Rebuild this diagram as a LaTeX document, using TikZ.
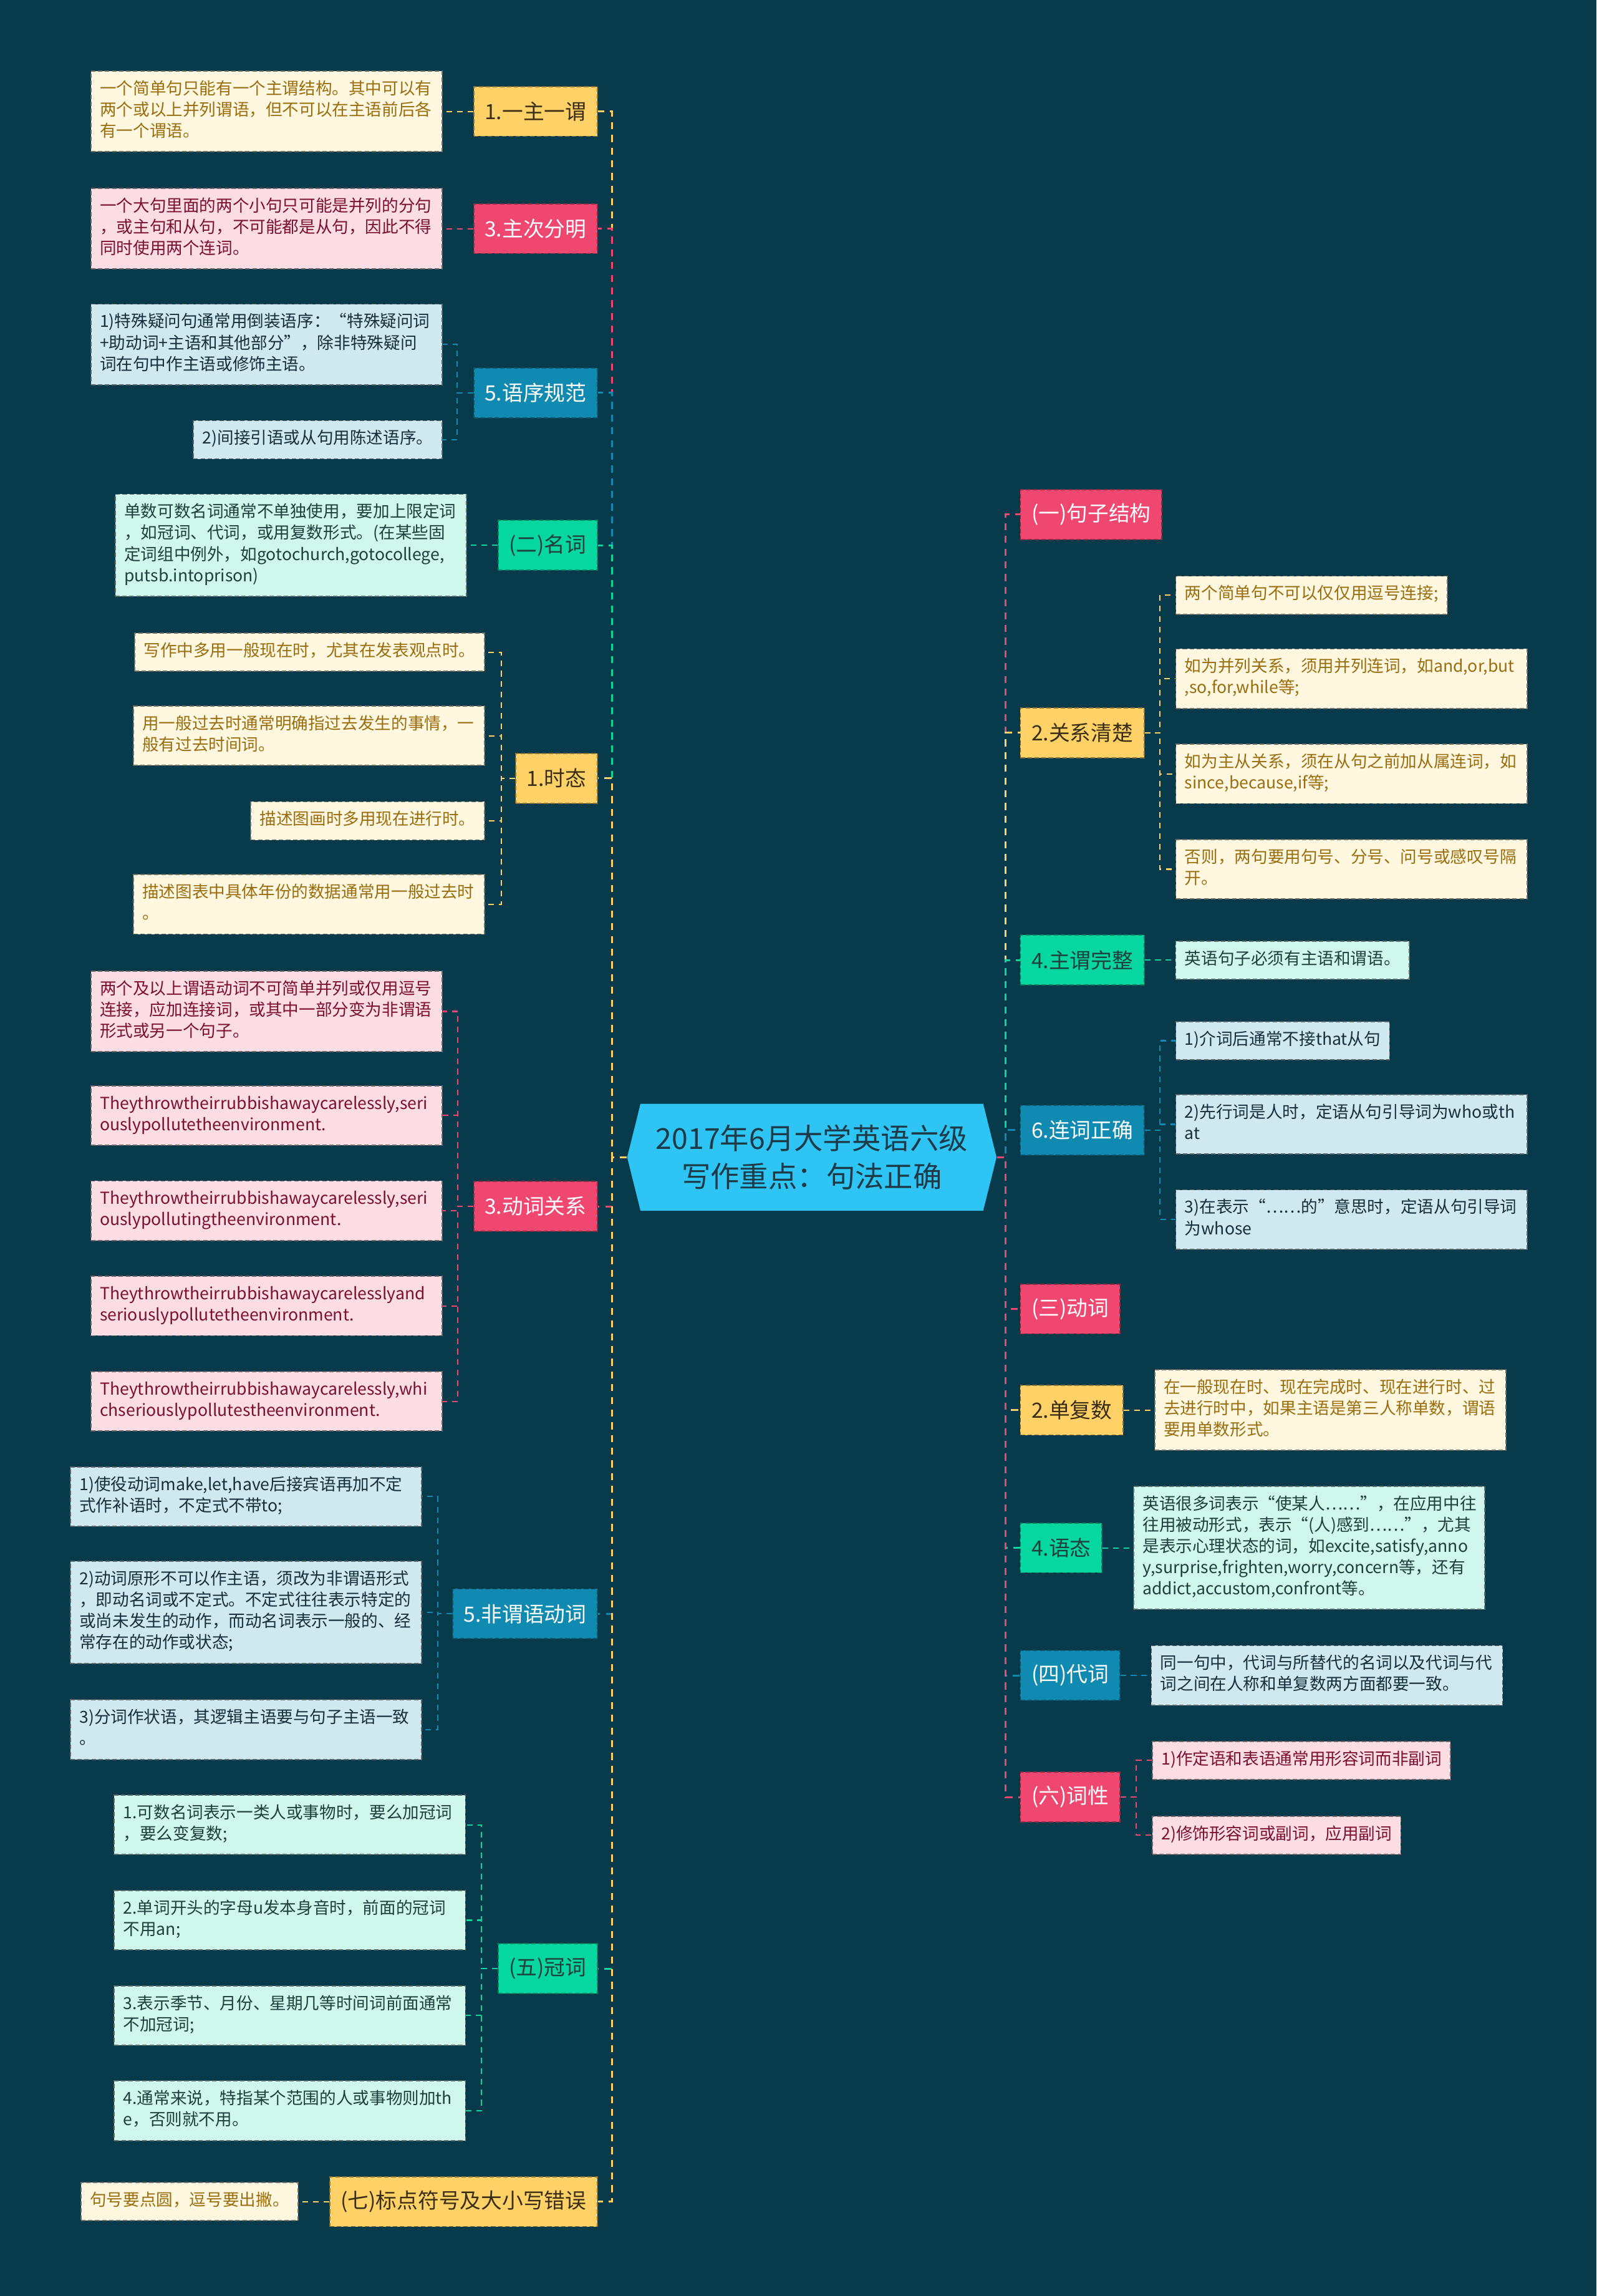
\documentclass[tikz,border=0pt]{standalone}
\usepackage{fontspec}
\setmainfont{Noto Sans CJK SC}
\usepackage{xcolor}
\usepackage{tikz}
\usetikzlibrary{positioning,shapes.symbols}

\definecolor{bgTeal}{HTML}{073B4C}
\definecolor{hubCyan}{HTML}{2EC4F4}
\definecolor{hubText}{HTML}{1C3A47}
\definecolor{ylwMain}{HTML}{FFD166}
\definecolor{ylwLeaf}{HTML}{FFF7E0}
\definecolor{ylwText}{HTML}{9A6E0E}
\definecolor{ylwDark}{HTML}{3A2E12}
\definecolor{pnkMain}{HTML}{EF476F}
\definecolor{pnkLeaf}{HTML}{FDDDE4}
\definecolor{pnkText}{HTML}{7B1030}
\definecolor{grnMain}{HTML}{06D6A0}
\definecolor{grnLeaf}{HTML}{CFF7EC}
\definecolor{grnText}{HTML}{1E3F3C}
\definecolor{bluMain}{HTML}{118AB2}
\definecolor{bluLeaf}{HTML}{D0E8EF}
\definecolor{bluText}{HTML}{13303C}

\newcommand{\hubsize}{\fontsize{13.2}{17.4}\selectfont}
\newcommand{\branchsize}{\fontsize{9.6}{12}\selectfont}
\newcommand{\leafsize}{\fontsize{7.57}{9.7}\selectfont}

\begin{document}
\begin{tikzpicture}[
  x=0.0235cm, y=-0.0235cm,
  node distance=0.49cm,
  hub/.style={signal, signal to=west and east, signal pointer angle=152, fill=hubCyan,
    text=hubText, font=\hubsize, align=center, minimum width=168.5pt, minimum height=48.8pt, inner sep=0pt},
  branch/.style={rectangle, line width=0.5pt, dash pattern=on 2pt off 1.2pt,
    minimum height=22.7pt, inner xsep=5pt, inner ysep=0pt, font=\branchsize},
  branchY/.style={branch, fill=ylwMain, draw=ylwMain!55!black, text=ylwDark},
  branchP/.style={branch, fill=pnkMain, draw=pnkMain!60!black, text=white},
  branchB/.style={branch, fill=bluMain, draw=bluMain!60!black, text=white},
  branchG/.style={branch, fill=grnMain, draw=grnMain!60!black, text=grnText},
  leaf/.style={rectangle, line width=0.5pt, dash pattern=on 2pt off 1.2pt, font=\leafsize,
    align=left, inner xsep=4.1pt, inner ysep=3.85pt,
    execute at begin node=\strut, execute at end node=\strut},
  wide/.style={text width=152pt},
  leafY/.style={leaf, fill=ylwLeaf, draw=ylwLeaf!45!black, text=ylwText},
  leafP/.style={leaf, fill=pnkLeaf, draw=pnkLeaf!45!black, text=pnkText},
  leafB/.style={leaf, fill=bluLeaf, draw=bluLeaf!45!black, text=bluText},
  leafG/.style={leaf, fill=grnLeaf, draw=grnLeaf!45!black, text=grnText},
  link/.style={line width=0.85pt, dash pattern=on 3.2pt off 2.6pt},
  twig/.style={line width=0.6pt, dash pattern=on 2.6pt off 2.2pt},
  linkY/.style={link, draw=ylwMain}, linkP/.style={link, draw=pnkMain},
  linkB/.style={link, draw=bluMain}, linkG/.style={link, draw=grnMain},
  twigY/.style={twig, draw=ylwMain}, twigP/.style={twig, draw=pnkMain},
  twigB/.style={twig, draw=bluMain}, twigG/.style={twig, draw=grnMain}
]
  \fill[bgTeal] (0,0) rectangle (1089.4,1566.4);

  \node[hub] (hub) at (554,789.5) {2017年6月大学英语六级\\写作重点：句法正确};

  \node[branchY, anchor=east] (single) at (408,76) {1.一主一谓};
  \node[branchP, anchor=east] (clause) at (408,156) {3.主次分明};
  \node[branchB, anchor=east] (order) at (408,268) {5.语序规范};
  \node[branchG, anchor=east] (noun) at (408,372) {(二)名词};
  \node[branchY, anchor=east] (tense) at (408,531) {1.时态};
  \node[branchP, anchor=east] (verbrel) at (408,823) {3.动词关系};
  \node[branchB, anchor=east] (nonfin) at (408,1101) {5.非谓语动词};
  \node[branchG, anchor=east] (article) at (408,1343) {(五)冠词};
  \node[branchY, anchor=east] (punct) at (408,1502) {(七)标点符号及大小写错误};

  \node[branchP, anchor=west] (struct) at (696,351) {(一)句子结构};
  \node[branchY, anchor=west] (relation) at (696,500) {2.关系清楚};
  \node[branchG, anchor=west] (subjpred) at (696,655) {4.主谓完整};
  \node[branchB, anchor=west] (conj) at (696,771) {6.连词正确};
  \node[branchP, anchor=west] (verb) at (696,893) {(三)动词};
  \node[branchY, anchor=west] (number) at (696,962) {2.单复数};
  \node[branchG, anchor=west] (voice) at (696,1056) {4.语态};
  \node[branchB, anchor=west] (pron) at (696,1143) {(四)代词};
  \node[branchP, anchor=west] (pos) at (696,1226) {(六)词性};

  \node[leafY, wide, left=of single] (single1) {一个简单句只能有一个主谓结构。其中可以有\\两个或以上并列谓语，但不可以在主语前后各\\有一个谓语。};
  \node[leafP, wide, left=of clause] (clause1) {一个大句里面的两个小句只可能是并列的分句\\，或主句和从句，不可能都是从句，因此不得\\同时使用两个连词。};
  \node[leafB, wide, anchor=east] (order1) at (302,235) {1)特殊疑问句通常用倒装语序：“特殊疑问词\\+助动词+主语和其他部分”，除非特殊疑问\\词在句中作主语或修饰主语。};
  \node[leafB, anchor=east] (order2) at (302,300) {2)间接引语或从句用陈述语序。};
  \node[leafG, wide, left=of noun] (noun1) {单数可数名词通常不单独使用，要加上限定词\\，如冠词、代词，或用复数形式。(在某些固\\定词组中例外，如gotochurch,gotocollege,\\putsb.intoprison)};
  \node[leafY, anchor=east] (tense1) at (331,445) {写作中多用一般现在时，尤其在发表观点时。};
  \node[leafY, wide, anchor=east] (tense2) at (331,502) {用一般过去时通常明确指过去发生的事情，一\\般有过去时间词。};
  \node[leafY, anchor=east] (tense3) at (331,560) {描述图画时多用现在进行时。};
  \node[leafY, wide, anchor=east] (tense4) at (331,617) {描述图表中具体年份的数据通常用一般过去时\\。};
  \node[leafP, wide, anchor=east] (verbrel1) at (302,690) {两个及以上谓语动词不可简单并列或仅用逗号\\连接，应加连接词，或其中一部分变为非谓语\\形式或另一个句子。};
  \node[leafP, wide, anchor=east] (verbrel2) at (302,761) {Theythrowtheirrubbishawaycarelessly,seri\\ouslypollutetheenvironment.};
  \node[leafP, wide, anchor=east] (verbrel3) at (302,826) {Theythrowtheirrubbishawaycarelessly,seri\\ouslypollutingtheenvironment.};
  \node[leafP, wide, anchor=east] (verbrel4) at (302,891) {Theythrowtheirrubbishawaycarelesslyand\\seriouslypollutetheenvironment.};
  \node[leafP, wide, anchor=east] (verbrel5) at (302,956) {Theythrowtheirrubbishawaycarelessly,whi\\chseriouslypollutestheenvironment.};
  \node[leafB, wide, anchor=east] (nonfin1) at (288,1021) {1)使役动词make,let,have后接宾语再加不定\\式作补语时，不定式不带to;};
  \node[leafB, wide, anchor=east] (nonfin2) at (288,1100) {2)动词原形不可以作主语，须改为非谓语形式\\，即动名词或不定式。不定式往往表示特定的\\或尚未发生的动作，而动名词表示一般的、经\\常存在的动作或状态;};
  \node[leafB, wide, anchor=east] (nonfin3) at (288,1180) {3)分词作状语，其逻辑主语要与句子主语一致\\。};
  \node[leafG, wide, anchor=east] (article1) at (318,1245) {1.可数名词表示一类人或事物时，要么加冠词\\，要么变复数;};
  \node[leafG, wide, anchor=east] (article2) at (318,1310) {2.单词开头的字母u发本身音时，前面的冠词\\不用an;};
  \node[leafG, wide, anchor=east] (article3) at (318,1375) {3.表示季节、月份、星期几等时间词前面通常\\不加冠词;};
  \node[leafG, wide, anchor=east] (article4) at (318,1440) {4.通常来说，特指某个范围的人或事物则加th\\e，否则就不用。};
  \node[leafY, left=of punct] (punct1) {句号要点圆，逗号要出撇。};

  \node[leafY, anchor=west] (relation1) at (802,406) {两个简单句不可以仅仅用逗号连接;};
  \node[leafY, wide, anchor=west] (relation2) at (802,463) {如为并列关系，须用并列连词，如and,or,but\\,so,for,while等;};
  \node[leafY, wide, anchor=west] (relation3) at (802,528) {如为主从关系，须在从句之前加从属连词，如\\since,because,if等;};
  \node[leafY, wide, anchor=west] (relation4) at (802,593) {否则，两句要用句号、分号、问号或感叹号隔\\开。};
  \node[leafG, right=of subjpred] (subjpred1) {英语句子必须有主语和谓语。};
  \node[leafB, anchor=west] (conj1) at (802,710) {1)介词后通常不接that从句};
  \node[leafB, wide, anchor=west] (conj2) at (802,767) {2)先行词是人时，定语从句引导词为who或th\\at};
  \node[leafB, wide, anchor=west] (conj3) at (802,832) {3)在表示“……的”意思时，定语从句引导词\\为whose};
  \node[leafY, wide, right=of number] (number1) {在一般现在时、现在完成时、现在进行时、过\\去进行时中，如果主语是第三人称单数，谓语\\要用单数形式。};
  \node[leafG, wide, right=of voice] (voice1) {英语很多词表示“使某人……”，在应用中往\\往用被动形式，表示“(人)感到……”，尤其\\是表示心理状态的词，如excite,satisfy,anno\\y,surprise,frighten,worry,concern等，还有\\addict,accustom,confront等。};
  \node[leafB, wide, right=of pron] (pron1) {同一句中，代词与所替代的名词以及代词与代\\词之间在人称和单复数两方面都要一致。};
  \node[leafP, anchor=west] (pos1) at (786,1201) {1)作定语和表语通常用形容词而非副词};
  \node[leafP, anchor=west] (pos2) at (786,1252) {2)修饰形容词或副词，应用副词};

  \draw[linkY] (hub.west) -- ++(-10,0) |- (single.east);
  \draw[linkP] (hub.west) -- ++(-10,0) |- (clause.east);
  \draw[linkB] (hub.west) -- ++(-10,0) |- (order.east);
  \draw[linkG] (hub.west) -- ++(-10,0) |- (noun.east);
  \draw[linkY] (hub.west) -- ++(-10,0) |- (tense.east);
  \draw[linkP] (hub.west) -- ++(-10,0) |- (verbrel.east);
  \draw[linkB] (hub.west) -- ++(-10,0) |- (nonfin.east);
  \draw[linkG] (hub.west) -- ++(-10,0) |- (article.east);
  \draw[linkY] (hub.west) -- ++(-10,0) |- (punct.east);

  \draw[linkP] (hub.east) -- ++(6,0) |- (struct.west);
  \draw[linkY] (hub.east) -- ++(6,0) |- (relation.west);
  \draw[linkG] (hub.east) -- ++(6,0) |- (subjpred.west);
  \draw[linkB] (hub.east) -- ++(6,0) |- (conj.west);
  \draw[linkP] (hub.east) -- ++(6,0) |- (verb.west);
  \draw[linkY] (hub.east) -- ++(6,0) |- (number.west);
  \draw[linkG] (hub.east) -- ++(6,0) |- (voice.west);
  \draw[linkB] (hub.east) -- ++(6,0) |- (pron.west);
  \draw[linkP] (hub.east) -- ++(6,0) |- (pos.west);

  \draw[twigY] (single.west) -- (single1.east);
  \draw[twigP] (clause.west) -- (clause1.east);
  \draw[twigB] (order.west) -- ++(-11,0) |- (order1.east);
  \draw[twigB] (order.west) -- ++(-11,0) |- (order2.east);
  \draw[twigG] (noun.west) -- (noun1.east);
  \foreach \i in {1,...,4}
    \draw[twigY] (tense.west) -- ++(-9.5,0) |- (tense\i.east);
  \foreach \i in {1,...,5}
    \draw[twigP] (verbrel.west) -- ++(-10.5,0) |- (verbrel\i.east);
  \foreach \i in {1,2,3}
    \draw[twigB] (nonfin.west) -- ++(-10,0) |- (nonfin\i.east);
  \foreach \i in {1,...,4}
    \draw[twigG] (article.west) -- ++(-11,0) |- (article\i.east);
  \draw[twigY] (punct.west) -- (punct1.east);

  \foreach \i in {1,...,4}
    \draw[twigY] (relation.east) -- ++(10.5,0) |- (relation\i.west);
  \draw[twigG] (subjpred.east) -- (subjpred1.west);
  \foreach \i in {1,2,3}
    \draw[twigB] (conj.east) -- ++(10.5,0) |- (conj\i.west);
  \draw[twigY] (number.east) -- (number1.west);
  \draw[twigG] (voice.east) -- (voice1.west);
  \draw[twigB] (pron.east) -- (pron1.west);
  \draw[twigP] (pos.east) -- ++(11,0) |- (pos1.west);
  \draw[twigP] (pos.east) -- ++(11,0) |- (pos2.west);
\end{tikzpicture}
\end{document}
